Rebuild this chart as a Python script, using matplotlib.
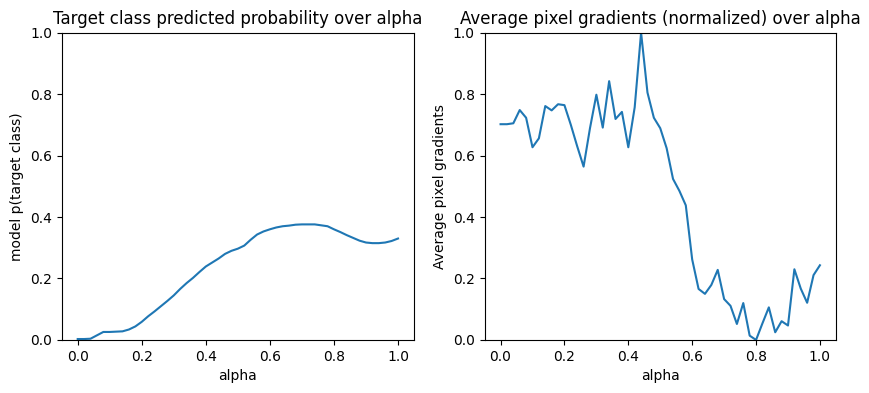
import numpy as np
import matplotlib
matplotlib.use("Agg")
import matplotlib.pyplot as plt

# interpolation steps
alphas = np.linspace(0, 1, 51)

# model p(target class) at each alpha
target_probs = [
    0.003, 0.003, 0.004, 0.015, 0.026, 0.026, 0.027, 0.028, 0.034, 0.044,
    0.059, 0.077, 0.093, 0.110, 0.127, 0.145, 0.166, 0.185, 0.202, 0.221,
    0.239, 0.252, 0.265, 0.280, 0.290, 0.297, 0.307, 0.326, 0.343, 0.353,
    0.360, 0.366, 0.370, 0.372, 0.375, 0.376, 0.376, 0.376, 0.373, 0.370,
    0.360, 0.351, 0.341, 0.332, 0.323, 0.317, 0.315, 0.315, 0.317, 0.322,
    0.330,
]

# average pixel gradients, normalized
avg_grads = [
    0.702, 0.702, 0.705, 0.748, 0.723, 0.627, 0.656, 0.761, 0.747, 0.767,
    0.764, 0.700, 0.630, 0.564, 0.689, 0.798, 0.691, 0.842, 0.719, 0.742,
    0.627, 0.757, 1.000, 0.805, 0.723, 0.689, 0.624, 0.524, 0.485, 0.438,
    0.262, 0.166, 0.150, 0.179, 0.228, 0.133, 0.111, 0.052, 0.120, 0.014,
    0.000, 0.054, 0.106, 0.025, 0.061, 0.047, 0.230, 0.167, 0.121, 0.211,
    0.243,
]

fig = plt.figure(figsize=(8.7, 3.93), dpi=100)
ax1 = fig.add_axes([0.0709, 0.135, 0.405, 0.782])
ax2 = fig.add_axes([0.557, 0.135, 0.4038, 0.782])

ax1.plot(alphas, target_probs)
ax1.set_title('Target class predicted probability over alpha')
ax1.set_ylabel('model p(target class)')
ax1.set_xlabel('alpha')
ax1.set_ylim([0, 1])

ax2.plot(alphas, avg_grads)
ax2.set_title('Average pixel gradients (normalized) over alpha')
ax2.set_ylabel('Average pixel gradients')
ax2.set_xlabel('alpha')
ax2.set_ylim([0, 1])

fig.savefig('out.png', dpi=100)
plt.close(fig)
